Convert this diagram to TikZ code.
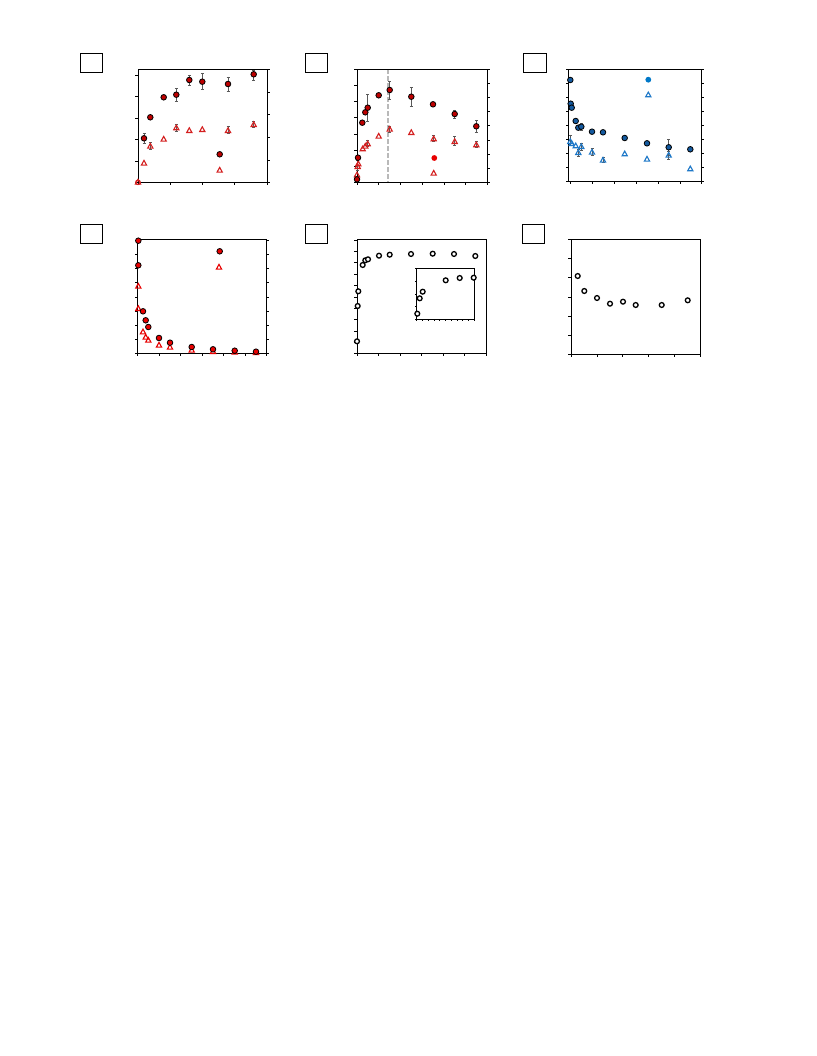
\documentclass[tikz,border=0pt]{standalone}
\definecolor{cA}{RGB}{190,0,0}
\definecolor{tA}{RGB}{212,32,32}
\definecolor{cB}{RGB}{20,90,160}
\definecolor{tB}{RGB}{30,120,200}
\definecolor{cBl}{RGB}{0,120,200}
\definecolor{cR}{RGB}{232,0,0}
\newcommand\mydot[3]{\filldraw[fill=#3,draw=black,line width=0.8pt] (#1,#2) circle (2.8);}
\newcommand\mysolo[3]{\fill[#3] (#1,#2) circle (2.9);}
\newcommand\mytri[3]{\draw[#3,line width=1.1pt,line join=miter] (#1,#2)++(0,-2.9) -- ++(2.6,4.7) -- ++(-5.2,0) -- cycle;}
\newcommand\myoc[2]{\draw[black,fill=white,line width=1.3pt] (#1,#2) circle (2.4);}
\newcommand\myeb[3]{\draw[ebar] (#1,#2)--(#1,#3) (#1-1.5,#2)--(#1+1.5,#2) (#1-1.5,#3)--(#1+1.5,#3);}
\begin{document}
\begin{tikzpicture}[x=1pt,y=-1pt,
  frame/.style={draw=black,line width=1pt},
  lbl/.style={draw=black,line width=1pt},
  tk/.style={line width=0.6pt},
  ebar/.style={line width=0.7pt,black!65}]
\useasboundingbox (0,0) rectangle (816,1056);
\fill[white] (0,0) rectangle (816,1056);

% label boxes
\draw[lbl] (80,54) rectangle (102,73);
\draw[lbl] (305,54) rectangle (327,73);
\draw[lbl] (523.5,54) rectangle (546,73);
\draw[lbl] (80,225) rectangle (102,244);
\draw[lbl] (305,225) rectangle (327,244);
\draw[lbl] (522,225) rectangle (544,244);

% ================= Panel 1 =================
\draw[frame] (138,69.3) rectangle (267,182.3);
\foreach \y in {75,96.5,118,139.5,161,182.3} \draw[tk] (138,\y)--(135.3,\y);
\foreach \y in {69.3,92,114.7,137.3,160,182.3} \draw[tk] (267,\y)--(269.7,\y);
\foreach \x in {138,170.25,202.5,234.75,267} \draw[tk] (\x,182.3)--(\x,185);
\myeb{144}{133.3}{143.3}
\myeb{176.3}{88.3}{101}
\myeb{189.3}{75}{85}
\myeb{202.3}{73.7}{89.7}
\myeb{228}{77}{91}
\myeb{253.7}{70}{80}
\myeb{150.3}{142.3}{149}
\myeb{176.3}{124.3}{131}
\myeb{228}{126}{133.3}
\myeb{253.7}{121}{127}
\draw[tA,line width=0.9pt] (138,182.3) circle (2.4);
\foreach \x/\y in {138/182.3,144/163.3,150.3/146.3,163.7/139.3,176.3/128,189.3/130.7,202.3/129.7,219.7/170.3,228/130.7,253.7/124.7} {\mytri{\x}{\y}{tA}}
\foreach \x/\y in {144/138.3,150.3/117.3,163.7/97.3,176.3/94.7,189.3/80,202.3/81.7,219.7/154.3,228/84,253.7/74.3} {\mydot{\x}{\y}{cA}}

% ================= Panel 2 =================
\draw[gray!55,line width=1.6pt,dash pattern=on 4.5pt off 2.5pt] (387.7,69.3)--(387.7,182.3);
\draw[frame] (357,69.3) rectangle (487.3,182.3);
\foreach \k in {0,...,7} \draw[tk] (357,69.3+\k*16.143)--(354.3,69.3+\k*16.143);
\foreach \k in {0,...,8} \draw[tk] (487.3,69.3+\k*14.125)--(490,69.3+\k*14.125);
\foreach \k in {0,...,6} \draw[tk] (357+\k*21.717,182.3)--(357+\k*21.717,185);
\myeb{367.7}{94.3}{121}
\myeb{389.7}{81}{99.3}
\myeb{411.3}{87.3}{106}
\myeb{454.7}{110}{118.7}
\myeb{476.3}{120.7}{132.3}
\myeb{367.7}{140}{146.7}
\myeb{389.7}{126}{132.3}
\myeb{433.7}{135.7}{141.7}
\myeb{454.7}{136.7}{145.7}
\myeb{476.3}{141.7}{147.7}
\myeb{357.7}{160}{170}
\foreach \x/\y in {357/175,357.7/166.7,358.3/164,362.7/149,365.3/146.3,367.7/144,378.7/136.3,389.7/129.3,411.3/132.7,433.7/139,433.7/173.3,454.7/141.7,476.3/145} {\mytri{\x}{\y}{tA}}
\foreach \x/\y in {357/179.3,358/157.7,362.3/122.7,365.3/112.3,367.7/107.7,378.7/95.3,389.7/90,411.3/96.7,433/104.3,454.7/114,476.3/126.3} {\mydot{\x}{\y}{cA}}
\mysolo{434.3}{158}{cR}

% ================= Panel 3 =================
\draw[frame] (568.3,69.3) rectangle (701.7,181.7);
\foreach \k in {0,...,8} {\draw[tk] (568.3,69.3+\k*14.05)--(565.6,69.3+\k*14.05);
  \draw[tk] (701.7,69.3+\k*14.05)--(704.4,69.3+\k*14.05);}
\foreach \k in {0,...,6} \draw[tk] (570.3+\k*21.9,181.7)--(570.3+\k*21.9,184.4);
\myeb{581.3}{123.3}{130}
\myeb{668.7}{139.3}{155}
\myeb{570.3}{135}{145}
\myeb{578.3}{149}{156}
\myeb{581.3}{143}{150}
\myeb{592}{148.7}{155.7}
\myeb{603}{157}{162}
\myeb{668.7}{151.7}{159}
\foreach \x/\y in {570.3/141.7,571.7/143.7,575.7/146,578.3/152.7,581.3/146.7,592/152.3,603/160.3,624.7/154,647/159.3,668.7/155.3,690.3/169,648.3/95} {\mytri{\x}{\y}{tB}}
\foreach \x/\y in {570.3/80,570.7/103.7,571.7/107.7,575.7/121,578.3/127.7,581.3/126.7,592/131.7,603/132.3,624.7/138,647/143.3,668.7/147.3,690.3/149.3} {\mydot{\x}{\y}{cB}}
\mysolo{648.3}{79.7}{cBl}

% ================= Panel 4 =================
\draw[frame] (137.7,240) rectangle (266.7,353.7);
\foreach \k in {0,...,8} {\draw[tk] (137.7,240+\k*14.2125)--(135,240+\k*14.2125);
  \draw[tk] (266.7,240+\k*14.2125)--(269.4,240+\k*14.2125);}
\foreach \k in {0,...,6} \draw[tk] (137.7+\k*21.5,353.7)--(137.7+\k*21.5,356.4);
\foreach \x/\y in {138.3/286.3,138.3/308.7,143/332,145.7/337.3,148.3/340.3,159/345.3,170/347.3,191.7/350.3,213/351.7,234.7/352.3,256/352.7,219/267.3} {\mytri{\x}{\y}{cR}}
\foreach \x/\y in {138.3/240.7,138.3/265.3,143/311.3,145.7/320.3,148.3/327,159/338,170/342.7,191.7/347,213/349.3,234.7/350.7,256/351.7,219.7/251.3} {\mydot{\x}{\y}{cR}}

% ================= Panel 5 =================
\draw[frame] (357,240) rectangle (486,353.7);
\foreach \k in {0,...,10} \draw[tk] (357,240+\k*11.37)--(354.3,240+\k*11.37);
\foreach \k in {0,...,6} \draw[tk] (357+\k*21.5,353.7)--(357+\k*21.5,356.4);
\foreach \x/\y in {357/341.3,357.7/306,358.3/291.3,362.7/265,365.3/260.3,368/259.3,379/255.7,389.7/254.7,411/254,432.7/253.7,454/254,475.3/256} {\myoc{\x}{\y}}
% inset
\draw[frame] (416.7,268.7) rectangle (474,319);
\foreach \k in {0,...,4} \draw[tk] (416.7,268.7+\k*12.575)--(414.5,268.7+\k*12.575);
\foreach \k in {0,...,10} \draw[tk] (416.7+\k*5.73,319)--(416.7+\k*5.73,321.2);
\foreach \x/\y in {417.3/313.7,419.7/298.3,422.7/291.7,445.7/280.3,459.7/278,473.7/277.7} {\myoc{\x}{\y}}

% ================= Panel 6 =================
\draw[frame] (571,239.3) rectangle (700,354.7);
\foreach \k in {0,...,6} \draw[tk] (571,239.3+\k*19.233)--(568.3,239.3+\k*19.233);
\foreach \k in {0,...,5} \draw[tk] (571+\k*25.8,354.7)--(571+\k*25.8,357.4);
\foreach \x/\y in {577.7/276,584.3/291,597/298,610/303.7,623/301.7,635.7/305,661.7/305,687.7/300.3} {\myoc{\x}{\y}}
\end{tikzpicture}
\end{document}
